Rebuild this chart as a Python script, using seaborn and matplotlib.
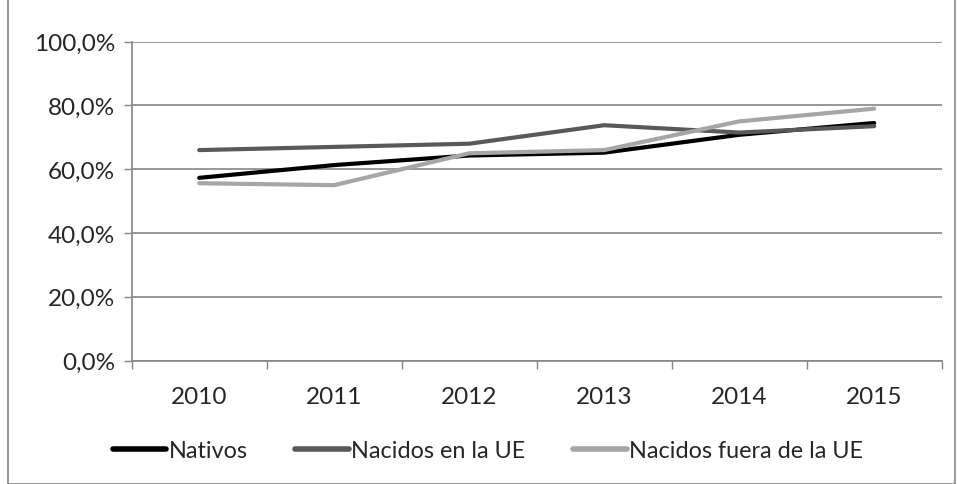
import matplotlib
matplotlib.use("Agg")
import matplotlib.pyplot as plt
import matplotlib.ticker as mticker
import seaborn as sns
import pandas as pd
from matplotlib.patches import Rectangle

years = ["2010", "2011", "2012", "2013", "2014", "2015"]
nativos = [57.3, 61.3, 64.3, 65.2, 70.8, 74.5]
nacidos_ue = [66.0, 67.0, 68.0, 73.8, 71.5, 73.5]
nacidos_fuera = [55.6, 55.0, 65.0, 66.0, 75.0, 79.0]
series_names = ["Nativos", "Nacidos en la UE", "Nacidos fuera de la UE"]
colors = ["#000000", "#595959", "#a6a6a6"]
yticks = [0, 20, 40, 60, 80, 100]

rows = []
for name, vals in zip(series_names, [nativos, nacidos_ue, nacidos_fuera]):
    for i, (yr, v) in enumerate(zip(years, vals)):
        rows.append({"x": i, "year": yr, "value": v, "serie": name})
df = pd.DataFrame(rows)

sns.set_theme(style="white")
plt.rcParams["font.family"] = ["Lato", "DejaVu Sans"]
FS = 17.5
LFS = 16.8

W, H = 957, 485
left, right, top, bottom = 131.7, 941.7, 42.7, 361.5
fig = plt.figure(figsize=(W/100, H/100), dpi=100)
ax = fig.add_axes([left/W, 1-bottom/H, (right-left)/W, (bottom-top)/H])

sns.lineplot(data=df, x="x", y="value", hue="serie", hue_order=series_names,
             palette=colors, linewidth=3.0, ax=ax, legend=True)

ax.set_xlim(-0.5, len(years) - 0.5)
ax.set_ylim(0, 100)
ax.set_yticks(yticks)
ax.yaxis.set_major_formatter(mticker.FuncFormatter(lambda v, p: f"{v:.1f}%".replace(".", ",")))
ax.yaxis.grid(True, color="#868686", linewidth=1.2)
ax.set_axisbelow(True)

ax.set_xticks([i - 0.5 for i in range(len(years) + 1)])
ax.set_xticklabels([])
ax.set_xticks(range(len(years)), minor=True)
ax.set_xticklabels(years, minor=True)
ax.tick_params(axis="x", which="major", length=5.5, width=1, color="#868686", direction="out", bottom=True)
ax.tick_params(axis="x", which="minor", length=0, pad=18, labelsize=FS)
ax.tick_params(axis="y", length=6, width=1, color="#868686", direction="out", left=True, labelsize=FS, pad=6)
ax.set_xlabel("")
ax.set_ylabel("")

for s in ["top", "right"]:
    ax.spines[s].set_visible(False)
for s in ["left", "bottom"]:
    ax.spines[s].set_color("#868686")
    ax.spines[s].set_linewidth(1.2)

leg = ax.legend(loc="center", bbox_to_anchor=(488/W, 1 - 452/H), bbox_transform=fig.transFigure,
                ncol=3, frameon=False, fontsize=LFS, handlelength=2.3, handletextpad=0.1,
                columnspacing=2.05)
for line in leg.get_lines():
    line.set_linewidth(4)
    line.set_solid_capstyle("round")

fig.patches.append(Rectangle((8/W, 0.0), (955-8)/W, 1.0, transform=fig.transFigure,
                             fill=False, edgecolor="#868686", linewidth=1.2))

fig.savefig("out.png", dpi=100)
